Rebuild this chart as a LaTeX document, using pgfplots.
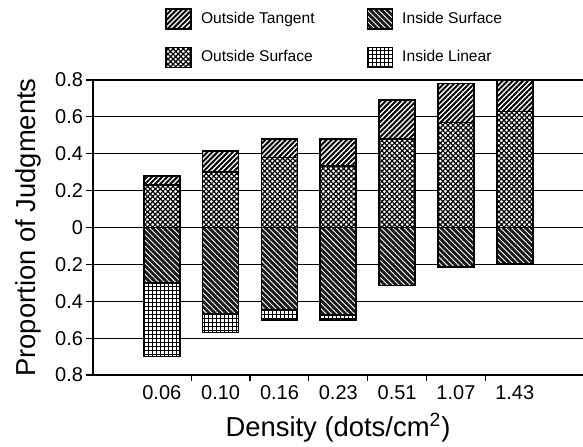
\documentclass[border=0pt]{standalone}
\usepackage{fontspec}
\setmainfont{Liberation Sans}
\usepackage{pgfplots}
\usepackage{pgfplotstable}
\pgfplotsset{compat=1.18}
\usetikzlibrary{patterns.meta}

\pgfplotstableread{
x OS OT IS IL
1 0.23 0.28 -0.30 -0.70
2 0.30 0.415 -0.47 -0.57
3 0.38 0.48 -0.445 -0.50
4 0.335 0.48 -0.475 -0.50
5 0.48 0.69 -0.315 -0.315
6 0.57 0.78 -0.215 -0.215
7 0.63 0.80 -0.195 -0.195
}\data

\tikzset{
 barbase/.style={draw=black, line width=0.8pt},
 ot/.style={barbase, preaction={fill=white}, pattern={Lines[angle=45,distance=1.8pt,line width=1pt]}, pattern color=black},
 os/.style={barbase, preaction={fill=white}, pattern={Hatch[angle=45,distance=1.8pt,line width=0.6pt]}, pattern color=black},
 is/.style={barbase, preaction={fill=black!90}, pattern={Lines[angle=-45,distance=2pt,line width=0.45pt]}, pattern color=white},
 il/.style={barbase, preaction={fill=white}, pattern={Hatch[angle=0,distance=2pt,line width=0.5pt]}, pattern color=black},
}

\begin{document}
\begin{tikzpicture}
\begin{axis}[
 scale only axis, width=245pt, height=147.5pt,
 xmin=-0.17, xmax=8.16, ymin=-0.8, ymax=0.8,
 axis x line*=bottom, axis y line*=left,
 axis line style={line width=0.6pt},
 ybar, bar width=18pt, bar shift=0pt,
 xtick={1,...,7},
 xticklabels={0.06,0.10,0.16,0.23,0.51,1.07,1.43},
 minor xtick={1.5,2.5,3.5,4.5,5.5,6.5},
 major x tick style={draw=none},
 minor x tick style={black, line width=0.6pt},
 minor tick length=3pt,
 ytick={-0.8,-0.6,-0.4,-0.2,0,0.2,0.4,0.6,0.8},
 yticklabels={0.8,0.6,0.4,0.2,0,0.2,0.4,0.6,0.8},
 major tick length=3.5pt,
 tick align=outside,
 tick style={black, line width=0.6pt},
 ymajorgrids, grid style={black, line width=0.6pt},
 tick label style={font=\fontsize{10}{12}\selectfont},
 yticklabel style={xshift=2pt},
 xticklabel style={yshift=2pt},
 /pgf/number format/assume math mode=true,
 xlabel={Density (dots/cm\textsuperscript{2})},
 ylabel={Proportion of Judgments},
 label style={font=\fontsize{13.7}{16}\selectfont},
 legend columns=2,
 legend cell align=left,
 legend style={draw=none, fill=none, at={(0.147,1.245)}, anchor=north west,
   font=\fontsize{7.8}{9}\selectfont, inner sep=0pt,
   /tikz/every odd column/.append style={column sep=2.5pt},
   /tikz/every even column/.append style={column sep=24pt}, row sep=8pt},
 legend image code/.code={\draw[#1] (0pt,-5pt) rectangle (12.5pt,5pt);},
]
\addplot[ot, bar shift=0pt, forget plot] table[x=x,y=OT]{\data};
\addplot[os, bar shift=0pt, forget plot] table[x=x,y=OS]{\data};
\addplot[il, bar shift=0pt, forget plot] table[x=x,y=IL]{\data};
\addplot[is, bar shift=0pt, forget plot] table[x=x,y=IS]{\data};
\addlegendimage{ot}\addlegendentry{Outside Tangent}
\addlegendimage{is}\addlegendentry{Inside Surface}
\addlegendimage{os}\addlegendentry{Outside Surface}
\addlegendimage{il}\addlegendentry{Inside Linear}
\end{axis}
\pgfresetboundingbox
\path ([shift={(-46.5pt,-35.5pt)}]current axis.south west) rectangle ([shift={(0pt,40pt)}]current axis.north east);
\end{tikzpicture}
\end{document}
